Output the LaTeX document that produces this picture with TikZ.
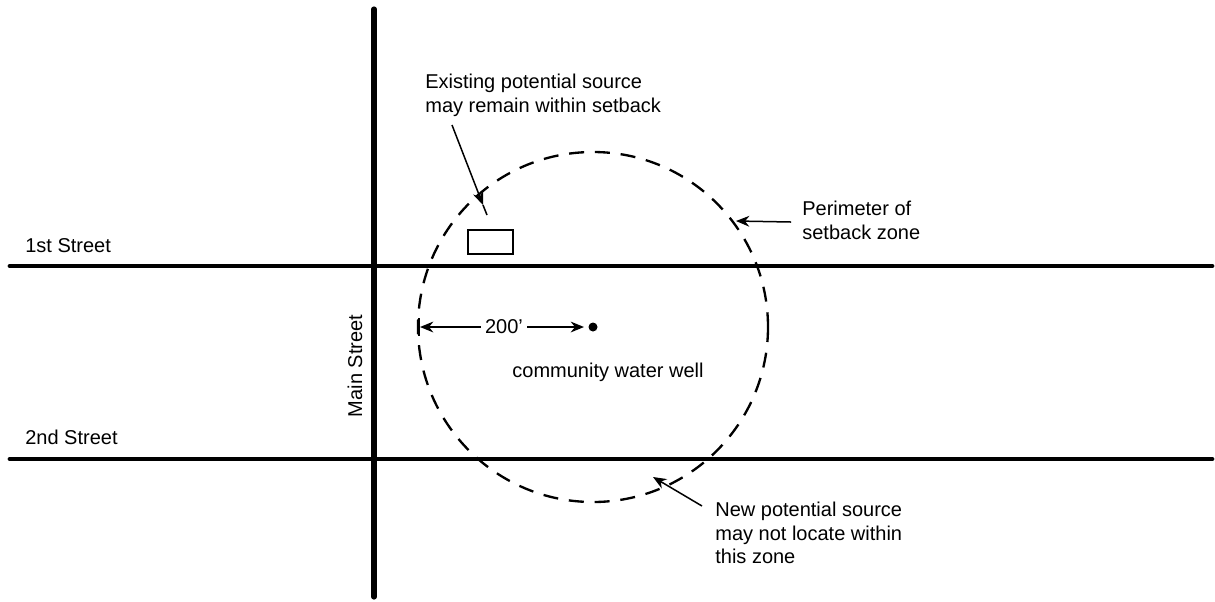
\documentclass[tikz,border=0pt]{standalone}
\usepackage{fontspec}
\setmainfont{Liberation Sans}
\usetikzlibrary{arrows.meta}
\begin{document}
\begin{tikzpicture}[x=0.6pt,y=-0.6pt,
  street/.style={line width=2.9pt,line cap=round},
  zone/.style={line width=1.4pt,dash pattern=on 9pt off 6.5pt},
  pointer/.style={line width=0.9pt,-{Stealth[length=8pt,width=6.5pt]}},
  lbl/.style={font=\fontsize{12}{14}\selectfont,inner sep=0pt},
  note/.style={lbl,align=left,anchor=north west}]
\useasboundingbox (0,0) rectangle (1215,601);
% streets
\coordinate (fsW) at (10,266); \coordinate (fsE) at (1212,266);
\coordinate (ssW) at (10,459); \coordinate (ssE) at (1212,459);
\coordinate (msN) at (374,9); \coordinate (msS) at (374,597);
\draw[street] (fsW) -- (fsE);
\draw[street] (ssW) -- (ssE);
\draw[street,line width=3.1pt] (msN) -- (msS);
\node[lbl,anchor=base west] (first) at (25,252) {1st Street};
\node[lbl,anchor=base west] (second) at (25,444) {2nd Street};
\node[lbl,rotate=90,anchor=base] (main) at (362,366) {Main Street};
% setback zone
\coordinate (well) at (593,327);
\draw[zone] (well) circle[radius=175];
\fill (well) circle[radius=4.5];
\node[lbl] (dist) at (504,327) {200’};
\coordinate (tickT) at (419,318); \coordinate (tickB) at (419,336);
\draw[line width=1.3pt] (tickT) -- (tickB);
\coordinate (tickM) at (420,327);
\coordinate (wellL) at (584,327);
\draw[pointer] (dist.west) ++(-4,0) -- (tickM);
\draw[pointer] (dist.east) ++(4,0) -- (wellL);
\node[lbl,anchor=base] (wlabel) at (608,377) {community water well};
% existing source
\node[draw,line width=1pt,minimum width=27pt,minimum height=14.4pt,inner sep=0pt] (src) at (490.5,242) {};
\node[note] (exist) at (425,74) {Existing potential source\\may remain within setback};
\coordinate (eA) at (452,125);
\coordinate (eB) at (483,205);
\coordinate (eC) at (487,215);
\draw[pointer] (eA) -- (eB);
\draw[line width=0.9pt] (eB) -- (eC);
% perimeter
\node[note] (perim) at (802,201) {Perimeter of\\setback zone};
\coordinate (pA) at (791,222);
\coordinate (pB) at (736,221);
\draw[pointer] (pA) -- (pB);
% new source
\node[note] (newsrc) at (715,502) {New potential source\\may not locate within\\this zone};
\coordinate (nA) at (702,506);
\coordinate (nB) at (653,477);
\draw[pointer] (nA) -- (nB);
\end{tikzpicture}
\end{document}
